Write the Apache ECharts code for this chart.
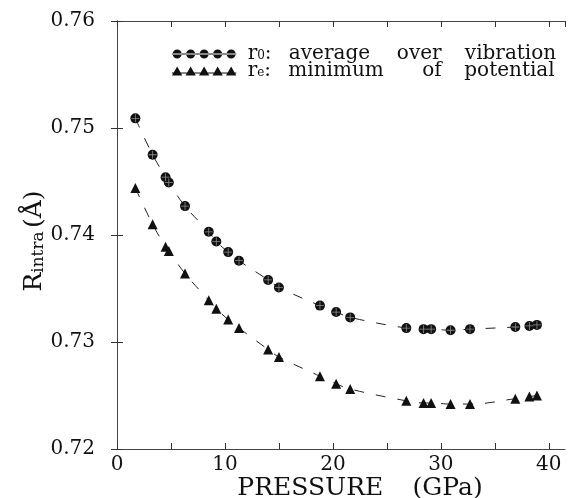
<!doctype html>
<html lang="en">
<head>
    <meta charset="UTF-8">
    <title>Rintra vs pressure</title>
    <script src="https://cdn.jsdelivr.net/npm/echarts@6/dist/echarts.min.js"></script>
    <style>
        html, body { margin: 0; padding: 0; background: #fff; }
    </style>
</head>
<body>
    <div id="main" style="width: 570px;height:498px;"></div>
    <script>
        // pressure (GPa)
        var pressure = [1.7, 3.3, 4.5, 4.8, 6.3, 8.5, 9.2, 10.3, 11.3, 14.0, 15.0, 18.8, 20.3, 21.6, 26.8, 28.4, 29.1, 30.9, 32.7, 36.9, 38.2, 38.9];
        // r0: average over vibration
        var r0 = [0.7509, 0.7475, 0.7454, 0.7449, 0.7427, 0.7403, 0.7394, 0.7384, 0.7376, 0.7358, 0.7351, 0.7334, 0.7328, 0.7323, 0.7313, 0.7312, 0.7312, 0.7311, 0.7312, 0.7314, 0.7315, 0.7316];
        // re: minimum of potential
        var re = [0.7444, 0.7410, 0.7389, 0.7385, 0.7364, 0.7339, 0.7331, 0.7321, 0.7313, 0.7293, 0.7286, 0.7268, 0.7261, 0.7256, 0.7245, 0.7243, 0.7243, 0.7242, 0.7242, 0.7247, 0.7249, 0.7250];
        var xTicks = [0, 10, 20, 30, 40];

        function pairs(xs, ys) {
            return xs.map(function (x, i) { return [x, ys[i]]; });
        }

        var serif = 'DejaVu Serif';
        var ink = '#111';
        var circIcon = 'path://M0,7.3h100v1.4h-100z' +
            [8, 29, 50, 71, 92].map(function (c) {
                return 'M' + (c - 7) + ',8a7,7 0 1,0 14,0a7,7 0 1,0 -14,0z';
            }).join('');
        var triIcon = 'path://M0,11.3h100v1.4h-100z' +
            [8, 29, 50, 71, 92].map(function (c) {
                return 'M' + (c - 8) + ',16L' + c + ',2L' + (c + 8) + ',16z';
            }).join('');
        var plus = 'path://M-1,-10h2v20h-2z M-10,-1h20v2h-20z';

        var myChart = echarts.init(document.getElementById('main'));
        var tickStyle = { inside: true, length: 6, lineStyle: { color: '#333', width: 1 } };
        var lineStyleAx = { lineStyle: { color: '#444', width: 1 } };
        function txt(extra) {
            var o = { fontFamily: serif, fontSize: 20, color: ink, lineHeight: 16 };
            for (var k in extra) o[k] = extra[k];
            return o;
        }

        myChart.setOption({
            backgroundColor: '#fff',
            animation: false,
            grid: { left: 117, right: 5, top: 21, bottom: 49, outerBoundsMode: 'none' },
            legend: {
                orient: 'vertical',
                left: 172,
                top: 44,
                padding: 0,
                itemWidth: 65,
                itemHeight: 9,
                itemGap: -3,
                align: 'left',
                data: [{ name: 'r0', icon: circIcon }, { name: 're', icon: triIcon }],
                formatter: function (n) {
                    if (n === 'r0') return '{r|r}{s|0}{c|:}{w1|average}{w2|over}{t|vibration}';
                    return '{r|r}{s|e}{c|:}{w3|minimum}{w4|of}{t|potential}';
                },
                textStyle: {
                    color: ink,
                    fontFamily: serif,
                    fontSize: 20,
                    lineHeight: 16,
                    rich: {
                        r: txt({ padding: [0, 0, 0, 6] }),
                        s: txt({ fontSize: 12, lineHeight: 11, verticalAlign: 'bottom', padding: [5, 0, 0, 0] }),
                        c: txt({ width: 24, align: 'left' }),
                        w1: txt({ width: 108, align: 'left' }),
                        w2: txt({ width: 68, align: 'left' }),
                        w3: txt({ width: 134, align: 'left' }),
                        w4: txt({ width: 42, align: 'left' }),
                        t: txt({})
                    }
                }
            },
            xAxis: [{
                type: 'value',
                min: 0,
                max: 41.5,
                interval: 5,
                name: '{a|PRESSURE} {b|(GPa)}',
                nameLocation: 'middle',
                nameGap: 27,
                nameMoveOverlap: false,
                nameTextStyle: {
                    padding: [0, 0, 0, 38],
                    rich: {
                        a: { fontFamily: serif, fontSize: 25, color: ink },
                        b: { fontFamily: serif, fontSize: 25, color: ink, padding: [0, 0, 0, 26] }
                    }
                },
                axisLine: lineStyleAx,
                axisTick: tickStyle,
                splitLine: { show: false },
                axisLabel: {
                    fontFamily: serif, fontSize: 20, color: ink, margin: 6,
                    showMaxLabel: false,
                    formatter: function (v) { return xTicks.indexOf(v) >= 0 ? String(v) : ''; }
                }
            }, {
                type: 'value',
                position: 'top',
                min: 0,
                max: 41.5,
                interval: 5,
                axisLine: lineStyleAx,
                axisTick: tickStyle,
                axisLabel: { show: false },
                splitLine: { show: false }
            }],
            yAxis: [{
                type: 'value',
                min: 0.72,
                max: 0.76,
                interval: 0.01,
                name: '{r|R}{s|intra} {t|(Å)}',
                nameLocation: 'middle',
                nameGap: 70,
                nameMoveOverlap: false,
                nameTextStyle: {
                    padding: [0, 12, 0, 0],
                    rich: {
                        r: { fontFamily: serif, fontSize: 25, color: ink },
                        s: { fontFamily: serif, fontSize: 17, color: ink, verticalAlign: 'bottom', padding: [8, 0, 0, 0] },
                        t: { fontFamily: serif, fontSize: 25, color: ink }
                    }
                },
                axisLine: lineStyleAx,
                axisTick: tickStyle,
                splitLine: { show: false },
                axisLabel: {
                    fontFamily: serif, fontSize: 20, color: ink, margin: 22,
                    formatter: function (v) { return v.toFixed(2); }
                }
            }, {
                type: 'value',
                position: 'right',
                min: 0.72,
                max: 0.76,
                interval: 0.01,
                axisLine: lineStyleAx,
                axisTick: tickStyle,
                axisLabel: { show: false },
                splitLine: { show: false }
            }],
            series: [{
                name: 'r0',
                type: 'line',
                smooth: 0.4,
                data: pairs(pressure, r0),
                symbol: 'circle',
                symbolSize: 10,
                itemStyle: { color: ink },
                lineStyle: { color: '#222', width: 1, type: [10, 12] },
                z: 3
            }, {
                name: 'r0 cross',
                type: 'scatter',
                data: pairs(pressure, r0),
                symbol: plus,
                symbolSize: 8,
                itemStyle: { color: '#aaa' },
                silent: true,
                z: 4
            }, {
                name: 're',
                type: 'line',
                smooth: 0.4,
                data: pairs(pressure, re),
                symbol: 'triangle',
                symbolSize: 10,
                itemStyle: { color: ink },
                lineStyle: { color: '#222', width: 1, type: [10, 12] },
                z: 3
            }]
        });
    </script>
</body>
</html>
